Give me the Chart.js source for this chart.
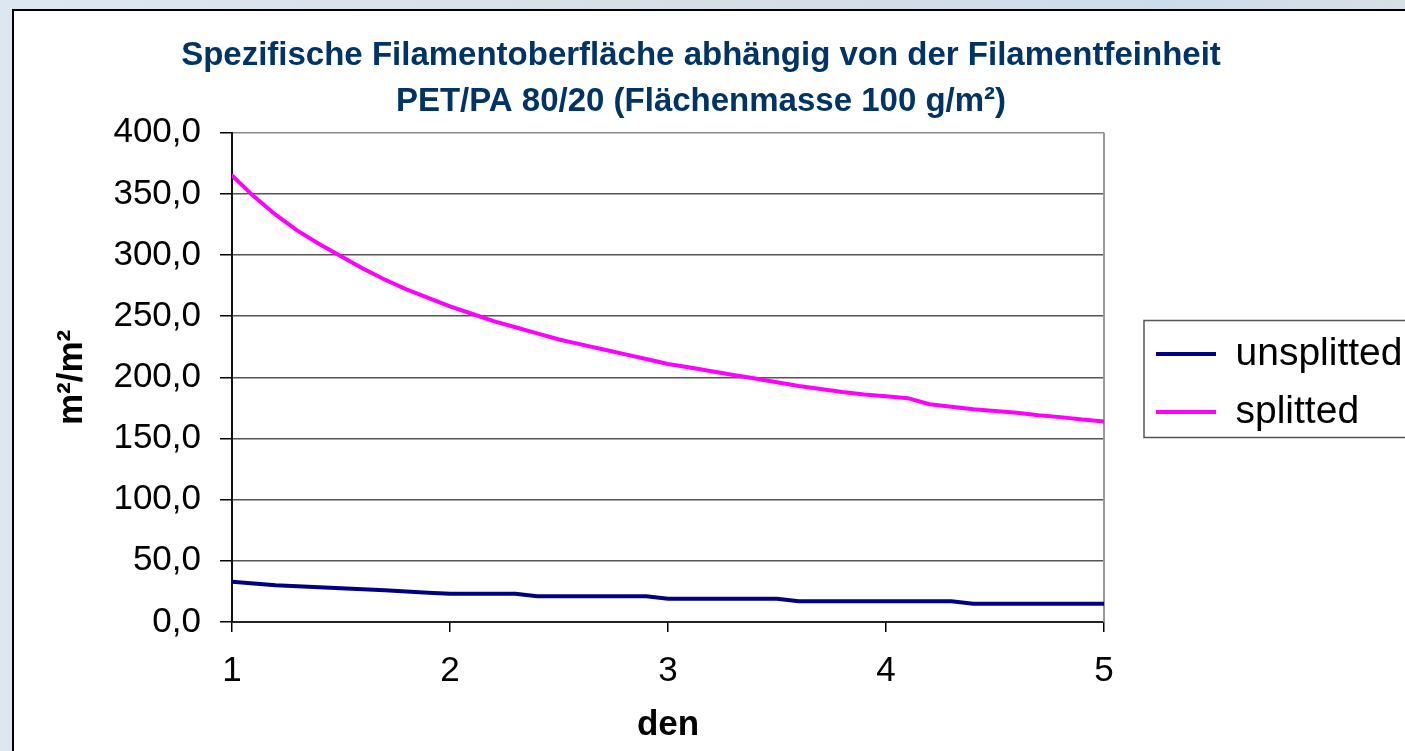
<!DOCTYPE html>
<html>
<head>
<meta charset="utf-8">
<script src="https://cdn.jsdelivr.net/npm/chart.js@4.4.1/dist/chart.umd.min.js"></script>
<style>
  html, body { margin: 0; padding: 0; background: #d9e1ea; overflow: hidden; }
  #wrap { width: 1405px; height: 751px; }
  canvas { display: block; }
</style>
</head>
<body>
<div id="wrap"><canvas id="chart" width="1405" height="751"></canvas></div>
<script>
// Filament fineness (den)
const den = [1.0, 1.1, 1.2, 1.3, 1.4, 1.5, 1.6, 1.7, 1.8, 1.9,
             2.0, 2.1, 2.2, 2.3, 2.4, 2.5, 2.6, 2.7, 2.8, 2.9,
             3.0, 3.1, 3.2, 3.3, 3.4, 3.5, 3.6, 3.7, 3.8, 3.9,
             4.0, 4.1, 4.2, 4.3, 4.4, 4.5, 4.6, 4.7, 4.8, 4.9, 5.0];

// Specific surface, m²/m²
const unsplitted = [33, 31.5, 30, 29.2, 28.4, 27.6, 26.8, 26, 25, 24,
                    23, 23, 23, 23, 21, 21, 21, 21, 21, 21,
                    19, 19, 19, 19, 19, 19, 17, 17, 17, 17,
                    17, 17, 17, 17, 15, 15, 15, 15, 15, 15, 15];
const splitted = [365, 348, 333, 320, 309, 299, 289, 280, 272, 265,
                  258, 252, 246, 241, 236, 231, 227, 223, 219, 215,
                  211, 208, 205, 202, 199, 196, 193, 190.5, 188, 186,
                  184.5, 183, 178, 176, 174, 172.5, 171, 169, 167.5, 165.5, 164];

const seriesNames = ['unsplitted', 'splitted'];
const titleLines = ['Spezifische Filamentoberfläche abhängig von der Filamentfeinheit',
                    'PET/PA 80/20 (Flächenmasse 100 g/m²)'];
const xTitle = 'den';
const yTitle = 'm²/m²';

const FONT = "'Liberation Sans', Arial, Helvetica, sans-serif";
const pts = ys => den.map((x, i) => ({ x, y: ys[i] }));

// Slide backdrop and the white chart frame
const framePlugin = {
  id: 'frame',
  beforeDraw(chart) {
    const { ctx, width, height } = chart;
    ctx.save();
    const g = ctx.createLinearGradient(0, 0, width, 0);
    g.addColorStop(0, '#dde7f2');
    g.addColorStop(0.5, '#d7dee6');
    g.addColorStop(0.83, '#cddcec');
    g.addColorStop(1, '#d8dfe6');
    ctx.fillStyle = g;
    ctx.fillRect(0, 0, width, height);
    ctx.fillStyle = '#ffffff';
    ctx.fillRect(13, 9, width, height);
    ctx.strokeStyle = '#000000';
    ctx.lineWidth = 2;
    ctx.beginPath();
    ctx.moveTo(13, height);
    ctx.lineTo(13, 10);
    ctx.lineTo(width, 10);
    ctx.stroke();
    ctx.restore();
  }
};

// Grey right edge of the plot area
const plotEdgePlugin = {
  id: 'plotEdge',
  beforeDatasetsDraw(chart) {
    const { ctx, chartArea: a } = chart;
    ctx.save();
    ctx.strokeStyle = '#999999';
    ctx.lineWidth = 2;
    ctx.beginPath();
    ctx.moveTo(a.right, a.top);
    ctx.lineTo(a.right, a.bottom);
    ctx.stroke();
    ctx.restore();
  }
};

// Move the legend away from the plot and draw its box
const legendBoxPlugin = {
  id: 'legendBox',
  afterLayout(chart) {
    const lg = chart.legend;
    if (!lg) return;
    lg.left += 33; lg.right += 33;
    lg.top += 3; lg.bottom += 3;
  },
  afterDraw(chart) {
    const lg = chart.legend;
    if (!lg || !lg.legendHitBoxes || lg.legendHitBoxes.length < 2) return;
    const h0 = lg.legendHitBoxes[0], h1 = lg.legendHitBoxes[1];
    const { ctx } = chart;
    const x = h0.left - 12, y = h0.top - 14;
    const b = h1.top + 45;
    ctx.save();
    ctx.strokeStyle = '#555555';
    ctx.lineWidth = 1.5;
    ctx.strokeRect(x, y, chart.width + 20 - x, b - y);
    ctx.restore();
  }
};

new Chart(document.getElementById('chart'), {
  type: 'line',
  data: {
    datasets: [
      {
        label: seriesNames[0],
        data: pts(unsplitted),
        borderColor: '#000080',
        backgroundColor: '#000080',
        borderWidth: 4,
        borderCapStyle: 'round',
        pointRadius: 0,
        pointStyle: 'line',
        tension: 0
      },
      {
        label: seriesNames[1],
        data: pts(splitted),
        borderColor: '#ff00ff',
        backgroundColor: '#ff00ff',
        borderWidth: 4,
        borderCapStyle: 'round',
        pointRadius: 0,
        pointStyle: 'line',
        tension: 0
      }
    ]
  },
  options: {
    responsive: false,
    animation: false,
    devicePixelRatio: 1,
    layout: { padding: { left: 28, top: 9, right: 31, bottom: 0 } },
    plugins: {
      title: {
        display: true,
        text: titleLines,
        color: '#003366',
        font: { family: FONT, size: 33, weight: 'bold', lineHeight: 1.39 },
        padding: { top: 24, bottom: 8 }
      },
      legend: {
        display: true,
        position: 'right',
        align: 'center',
        maxWidth: 270,
        labels: {
          usePointStyle: true,
          pointStyle: 'line',
          pointStyleWidth: 60,
          padding: 19,
          color: '#000000',
          font: { family: FONT, size: 39 }
        }
      },
      tooltip: { enabled: false }
    },
    scales: {
      x: {
        type: 'linear',
        min: 1,
        max: 5,
        afterFit(s) { s.height = 129; },
        ticks: {
          stepSize: 1,
          padding: 18,
          color: '#000000',
          font: { family: FONT, size: 35 },
          callback: v => String(v)
        },
        grid: {
          display: true,
          drawOnChartArea: false,
          drawTicks: true,
          tickLength: 10,
          color: '#000000',
          tickColor: '#000000',
          lineWidth: 1.5
        },
        border: { display: true, color: '#222222', width: 2 },
        title: {
          display: true,
          text: xTitle,
          color: '#000000',
          font: { family: FONT, size: 35, weight: 'bold' },
          padding: { top: 0, bottom: 5 }
        }
      },
      y: {
        type: 'linear',
        min: 0,
        max: 400,
        afterFit(s) { s.width = 204; },
        ticks: {
          stepSize: 50,
          padding: 19,
          color: '#000000',
          font: { family: FONT, size: 35 },
          callback: v => v.toFixed(1).replace('.', ',')
        },
        grid: {
          display: true,
          drawTicks: true,
          tickLength: 12,
          color: ctx => (ctx.tick && ctx.tick.value === 400) ? '#8a8a8a' : '#555555',
          tickColor: '#000000',
          lineWidth: 1.5
        },
        border: { display: true, color: '#111111', width: 2 },
        title: {
          display: true,
          text: yTitle,
          color: '#000000',
          font: { family: FONT, size: 35, weight: 'bold' },
          padding: { top: 23, bottom: 0 }
        }
      }
    }
  },
  plugins: [framePlugin, plotEdgePlugin, legendBoxPlugin]
});
</script>
</body>
</html>
